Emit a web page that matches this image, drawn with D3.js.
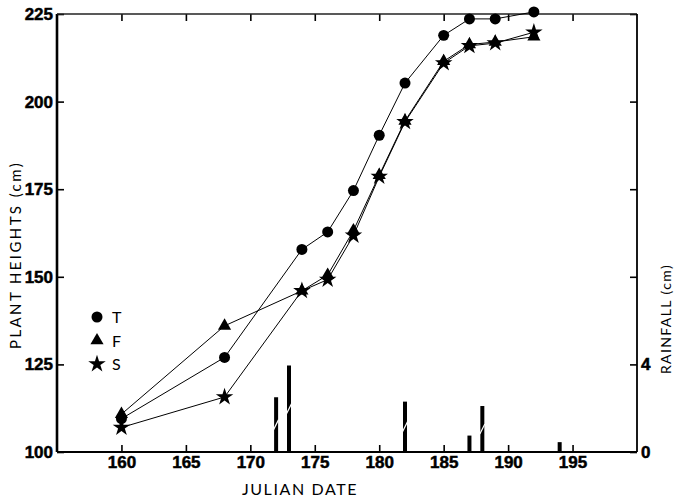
<!DOCTYPE html>
<html>
<head>
<meta charset="utf-8">
<script src="https://cdn.jsdelivr.net/npm/d3@7"></script>
<style>
  body { margin: 0; background: #fff; }
  .tick text { font-family: "Liberation Sans Narrow", "Liberation Sans", sans-serif; font-weight: bold; font-size: 17px; fill: #000; stroke: #000; stroke-width: 0.5; }
  .tick line { stroke: #000; stroke-width: 1.6; }
  .domain { display: none; }
  .title { font-family: Lato, "Open Sans", sans-serif; fill: #000; }
  .line { fill: none; stroke: #000; stroke-width: 1; }
</style>
</head>
<body>
<div id="chart"></div>
<script>
  // julian days of the height measurements
  var days = [160, 168, 174, 176, 178, 180, 182, 185, 187, 189, 192];

  // plant heights (cm) per treatment
  var heightT = [109.5, 127, 157.8, 162.8, 174.6, 190.4, 205.3, 218.9, 223.6, 223.6, 225.6];
  var heightF = [110.8, 136, 146, 150.5, 163.2, 179, 194.5, 211.5, 216.3, 217, 218.5];
  var heightS = [107, 115.7, 146, 149.2, 161.8, 178.6, 194.2, 211, 215.9, 216.7, 219.8];

  // rainfall events (cm)
  var rainDays = [172, 173, 182, 187, 188, 194];
  var rainAmounts = [2.5, 3.95, 2.3, 0.75, 2.1, 0.45];

  var xTicks = [160, 165, 170, 175, 180, 185, 190, 195];
  var yTicks = [100, 125, 150, 175, 200, 225];
  var rainTicks = [0, 4, 8, 12, 16, 20];
  var rainLabels = ["0", "4"];

  var legendKeys = ["T", "F", "S"];

  var width = 676, height = 498;
  var margin = {top: 14, right: 39, bottom: 46, left: 57};
  var w = width - margin.left - margin.right,
      h = height - margin.top - margin.bottom;

  var svg = d3.select("#chart").append("svg")
      .attr("width", width)
      .attr("height", height)
    .append("g")
      .attr("transform", "translate(" + margin.left + "," + margin.top + ")");

  var xScale = d3.scaleLinear().domain([155, 200]).range([0, w]);
  var yScale = d3.scaleLinear().domain([100, 225]).range([h, 0]);
  var rainScale = d3.scaleLinear().domain([0, 20]).range([h, 0]);

  // axes, ticks pointing inward
  svg.append("g")
      .attr("class", "y axis")
      .call(d3.axisLeft(yScale).tickValues(yTicks).tickSize(-7).tickPadding(4));

  svg.append("g")
      .attr("class", "x axis")
      .attr("transform", "translate(0," + h + ")")
      .call(d3.axisBottom(xScale).tickValues(xTicks).tickSize(-7).tickPadding(4));

  svg.append("g")
      .attr("class", "x axis top")
      .call(d3.axisTop(xScale).tickValues(xTicks).tickSize(-7).tickFormat(""));

  svg.append("g")
      .attr("class", "y axis rain")
      .attr("transform", "translate(" + w + ",0)")
      .call(d3.axisRight(rainScale).tickValues(rainTicks).tickSize(-7).tickPadding(4)
        .tickFormat(function(d, i) { return rainLabels[i] || ""; }));

  // frame
  svg.append("line").attr("x1", 0).attr("x2", 0).attr("y1", 0).attr("y2", h)
      .attr("stroke", "#000").attr("stroke-width", 2.6);
  svg.append("line").attr("x1", 0).attr("x2", w).attr("y1", h).attr("y2", h)
      .attr("stroke", "#000").attr("stroke-width", 2);
  svg.append("line").attr("x1", 0).attr("x2", w).attr("y1", 0).attr("y2", 0)
      .attr("stroke", "#222").attr("stroke-width", 1.5);
  svg.append("line").attr("x1", w).attr("x2", w).attr("y1", 0).attr("y2", h)
      .attr("stroke", "#000").attr("stroke-width", 1.8);

  // rainfall bars
  var bars = svg.append("g").attr("class", "rain-bars");
  rainDays.forEach(function(d, i) {
    var x = xScale(d), y = rainScale(rainAmounts[i]);
    bars.append("rect")
        .attr("x", x - 2)
        .attr("y", y)
        .attr("width", 4)
        .attr("height", h - y)
        .attr("fill", "#000");
    if (rainAmounts[i] > 1.5) {
      var mid = (y + h) / 2;
      bars.append("line")
          .attr("x1", x - 2.5).attr("y1", mid + 5)
          .attr("x2", x + 2.5).attr("y2", mid - 5)
          .attr("stroke", "#fff").attr("stroke-width", 1.2);
    }
  });

  // series lines
  var series = [
    {key: "T", values: heightT, symbol: d3.symbolCircle, size: 95},
    {key: "F", values: heightF, symbol: d3.symbolTriangle, size: 75},
    {key: "S", values: heightS, symbol: d3.symbolStar, size: 95}
  ];

  var line = d3.line()
      .x(function(d) { return xScale(d[0]); })
      .y(function(d) { return yScale(d[1]); });

  series.forEach(function(s) {
    var pts = days.map(function(d, i) { return [d, s.values[i]]; });
    svg.append("path")
        .datum(pts)
        .attr("class", "line")
        .attr("d", line);
  });

  series.forEach(function(s) {
    var sym = d3.symbol().type(s.symbol).size(s.size);
    svg.append("g").selectAll("path")
        .data(days.map(function(d, i) { return [d, s.values[i]]; }))
      .enter().append("path")
        .attr("d", sym)
        .attr("fill", "#000")
        .attr("transform", function(d) {
          return "translate(" + xScale(d[0]) + "," + yScale(d[1]) + ")";
        });
  });

  // legend
  var legend = svg.append("g").attr("transform", "translate(40,303)");
  series.forEach(function(s, i) {
    var g = legend.append("g").attr("transform", "translate(0," + (i * 23.5) + ")");
    g.append("path")
        .attr("d", d3.symbol().type(s.symbol).size(s.size))
        .attr("fill", "#000");
    g.append("text")
        .attr("x", 15)
        .attr("y", 6)
        .attr("font-family", "Lato, sans-serif")
        .attr("font-size", 16)
        .text(legendKeys[i]);
  });

  // axis titles
  svg.append("text")
      .attr("class", "title")
      .attr("text-anchor", "middle")
      .attr("x", 300 - margin.left)
      .attr("y", 495 - margin.top)
      .style("font-size", "16px")
      .style("letter-spacing", "1.6px")
      .text("JULIAN  DATE");

  svg.append("text")
      .attr("class", "title")
      .attr("text-anchor", "middle")
      .attr("transform", "translate(" + (21 - margin.left) + "," + (255 - margin.top) + ") rotate(-90)")
      .style("font-size", "15px")
      .style("letter-spacing", "2.4px")
      .text("PLANT  HEIGHTS  (cm)");

  svg.append("text")
      .attr("class", "title")
      .attr("text-anchor", "middle")
      .attr("transform", "translate(" + (671 - margin.left) + "," + (319 - margin.top) + ") rotate(-90)")
      .style("font-size", "14px")
      .style("letter-spacing", "1.4px")
      .text("RAINFALL  (cm)");
</script>
</body>
</html>
